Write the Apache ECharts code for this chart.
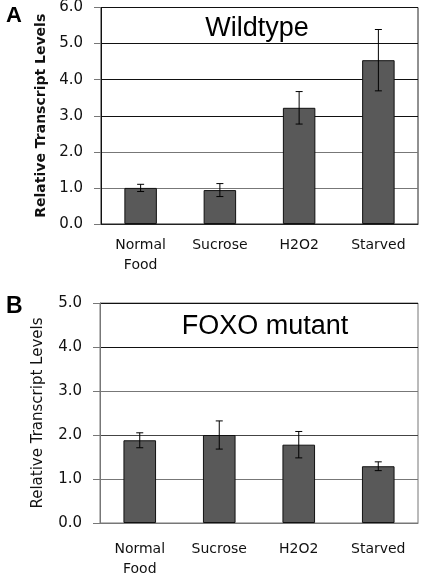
<!DOCTYPE html>
<html>
<head>
<meta charset="utf-8">
<script src="https://cdn.jsdelivr.net/npm/echarts@6/dist/echarts.min.js"></script>
<style>html,body{margin:0;padding:0;background:#fff;}#c{width:421px;height:579px;}</style>
</head>
<body>
<div id="c"></div>
<script>
var categories = ['Normal\nFood', 'Sucrose', 'H2O2', 'Starved'];
var wildValues = [1.0, 0.94, 3.22, 4.54];
var wildErrors = [0.1, 0.18, 0.45, 0.85];
var foxoValues = [1.88, 2.0, 1.78, 1.29];
var foxoErrors = [0.17, 0.32, 0.3, 0.1];
var wildTicks = [0, 6, 1];
var foxoTicks = [0, 5, 1];

function errData(vals, errs) {
  return vals.map(function (v, i) { return [i, v - errs[i], v + errs[i]]; });
}
function errRender(params, api) {
  var x = api.value(0);
  var lo = api.coord([x, api.value(1)]);
  var hi = api.coord([x, api.value(2)]);
  var hw = 3.5;
  var st = { stroke: '#000', lineWidth: 1 };
  return {
    type: 'group',
    children: [
      { type: 'line', shape: { x1: hi[0], y1: hi[1], x2: lo[0], y2: lo[1] }, style: st },
      { type: 'line', shape: { x1: hi[0] - hw, y1: hi[1], x2: hi[0] + hw, y2: hi[1] }, style: st },
      { type: 'line', shape: { x1: lo[0] - hw, y1: lo[1], x2: lo[0] + hw, y2: lo[1] }, style: st }
    ]
  };
}
var FONT = 'DejaVu Sans';
function xAxis(idx, margin) {
  return {
    type: 'category', gridIndex: idx, data: categories,
    axisLine: { lineStyle: { color: idx === 0 ? '#222' : '#777', width: 1 } },
    axisTick: { length: 6, lineStyle: { color: '#222' } },
    axisLabel: { color: '#111', fontFamily: FONT, fontSize: 14, lineHeight: 20, margin: margin, interval: 0 }
  };
}
function yAxis(idx, ticks, bold, gridColors, gap, nameSize) {
  return {
    type: 'value', gridIndex: idx, min: ticks[0], max: ticks[1], interval: ticks[2],
    name: 'Relative Transcript Levels', nameLocation: 'middle', nameGap: gap,
    nameTextStyle: { color: '#111', fontFamily: FONT, fontSize: nameSize, fontWeight: bold ? 'bold' : 'normal' },
    axisLine: { show: true, lineStyle: { color: idx === 0 ? '#111' : '#777', width: 1 } },
    axisTick: { show: true, length: 7, lineStyle: { color: '#777' } },
    axisLabel: { color: '#111', fontFamily: FONT, fontSize: 15, margin: 18, formatter: function (v) { return v.toFixed(1); } },
    splitLine: { show: true, lineStyle: { color: gridColors, width: 1 } }
  };
}
var chart = echarts.init(document.getElementById('c'), null, { renderer: 'canvas' });
chart.setOption({
  animation: false,
  backgroundColor: '#fff',
  title: [
    { text: 'A', left: 1, top: 0, textStyle: { fontFamily: 'Liberation Sans', fontSize: 22, fontWeight: 'bold', color: '#000' } },
    { text: 'B', left: 1, top: 290, textStyle: { fontFamily: 'Liberation Sans', fontSize: 23, fontWeight: 'bold', color: '#000' } },
    { text: 'Wildtype', left: 252, textAlign: 'center', top: 10, textStyle: { fontFamily: 'Liberation Sans', fontSize: 27, fontWeight: 'normal', color: '#000' } },
    { text: 'FOXO mutant', left: 260, textAlign: 'center', top: 308, textStyle: { fontFamily: 'Liberation Sans', fontSize: 27, fontWeight: 'normal', color: '#000' } }
  ],
  grid: [
    { left: 101, right: 3, top: 7, bottom: 355, show: true, borderColor: '#222', borderWidth: 1 },
    { left: 100, right: 3, top: 303, bottom: 51, show: true, borderColor: '#777', borderWidth: 1 }
  ],
  xAxis: [xAxis(0, 11), xAxis(1, 16)],
  yAxis: [
    yAxis(0, wildTicks, true, ['#777', '#777', '#777', '#111', '#111', '#111', '#111'], 52, 14),
    yAxis(1, foxoTicks, false, ['#777', '#777', '#444', '#777', '#111', '#111'], 54, 15)
  ],
  series: [
    { type: 'bar', xAxisIndex: 0, yAxisIndex: 0, data: wildValues, barWidth: '41%',
      itemStyle: { color: '#595959', borderColor: '#111', borderWidth: 1 } },
    { type: 'custom', xAxisIndex: 0, yAxisIndex: 0, data: errData(wildValues, wildErrors), renderItem: errRender, z: 5 },
    { type: 'bar', xAxisIndex: 1, yAxisIndex: 1, data: foxoValues, barWidth: '41%',
      itemStyle: { color: '#595959', borderColor: '#111', borderWidth: 1 } },
    { type: 'custom', xAxisIndex: 1, yAxisIndex: 1, data: errData(foxoValues, foxoErrors), renderItem: errRender, z: 5 }
  ]
});
</script>
</body>
</html>
